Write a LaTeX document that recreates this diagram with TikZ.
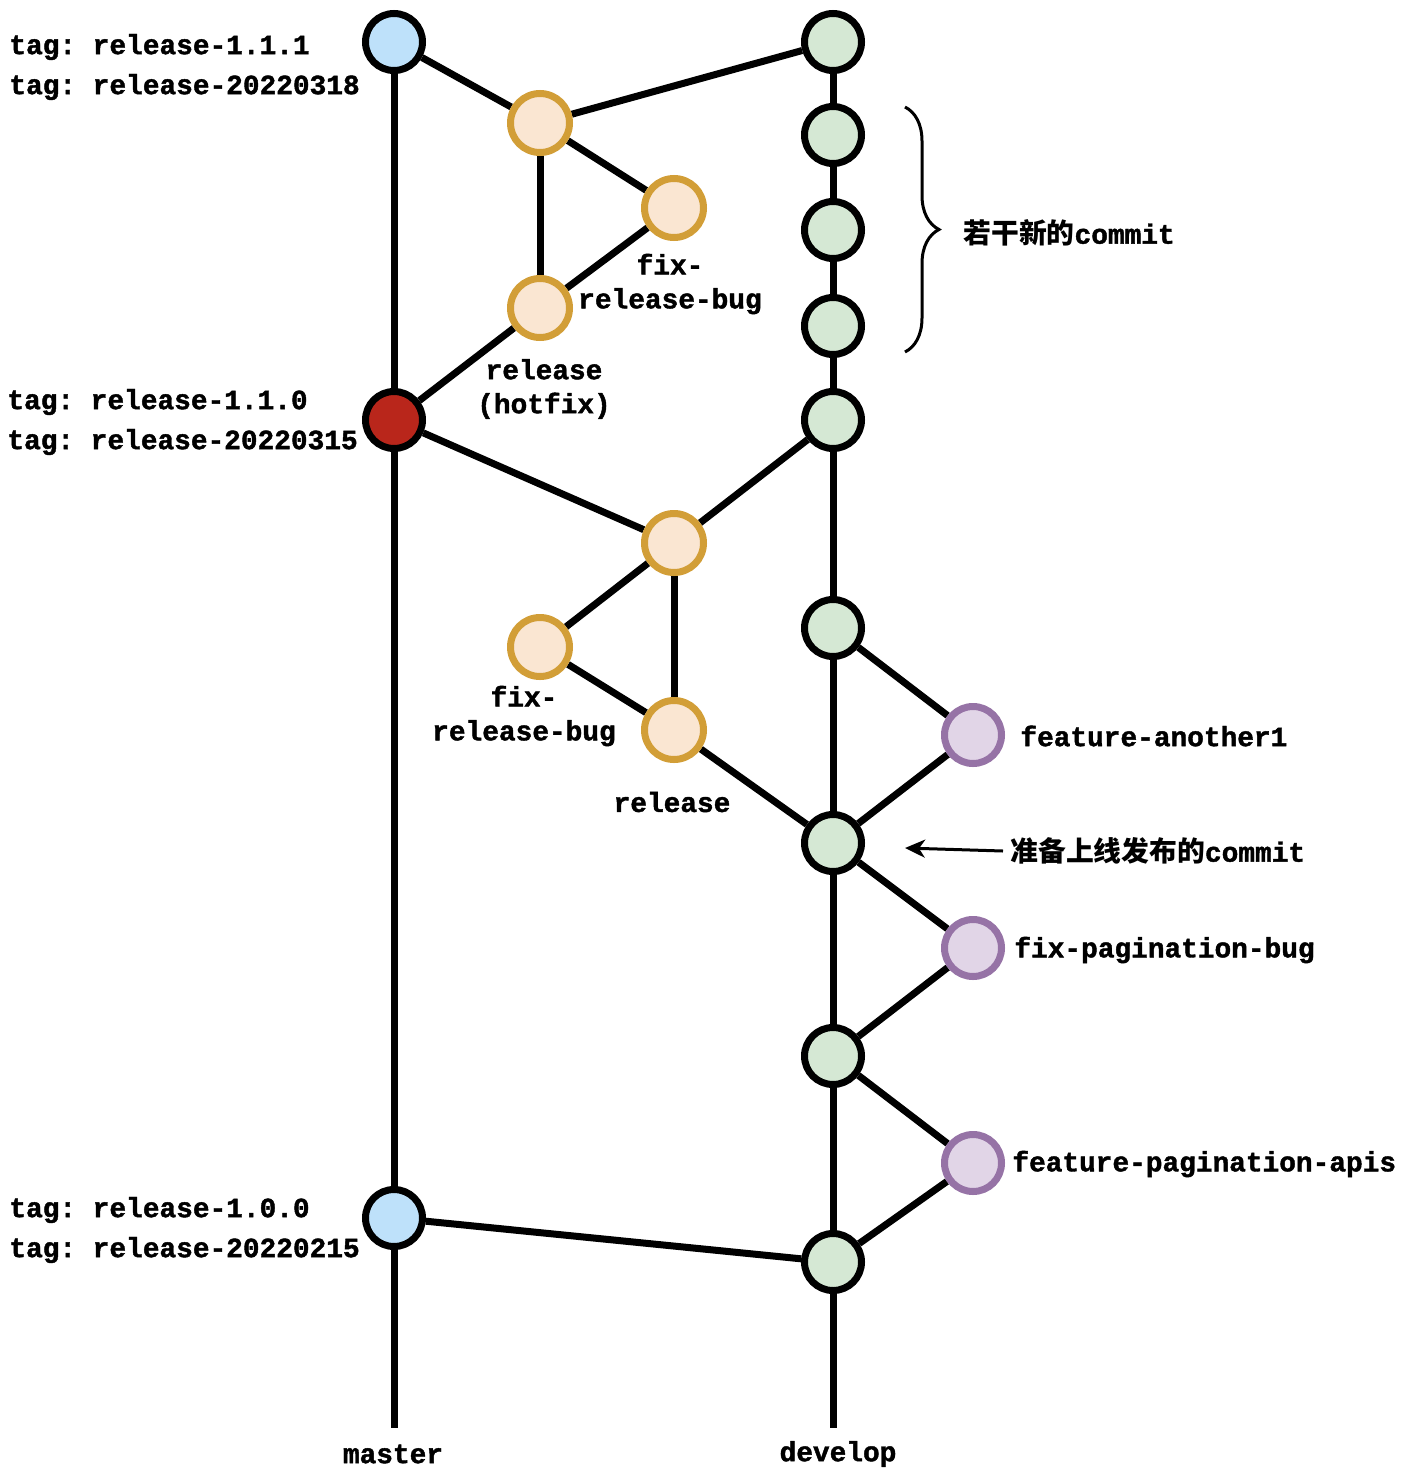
\documentclass[tikz,border=0pt]{standalone}
\usepackage{fontspec}
\setmonofont{Liberation Mono}[BoldFeatures={FakeBold=1.5}]
\newfontfamily\cjk{Noto Sans CJK SC}
\usepackage{tikz}
\usetikzlibrary{arrows.meta}
\usetikzlibrary{backgrounds}
\usetikzlibrary{decorations.pathreplacing}

\definecolor{tagblue}{RGB}{190,225,250}
\definecolor{tagred}{RGB}{185,38,27}
\definecolor{relfill}{RGB}{250,230,210}
\definecolor{relline}{RGB}{210,158,55}
\definecolor{devfill}{RGB}{213,232,212}
\definecolor{featfill}{RGB}{225,213,231}
\definecolor{featline}{RGB}{150,115,166}

\begin{document}
\begin{tikzpicture}[x=0.5pt,y=-0.5pt,
	commit/.style={draw,circle,line width=3.5pt,minimum size=28.5pt,inner sep=0pt},
	tagged/.style={commit,fill=tagblue},
	hotfix/.style={commit,fill=tagred},
	rel/.style={commit,draw=relline,fill=relfill,minimum size=29.5pt},
	dev/.style={commit,fill=devfill},
	feat/.style={commit,draw=featline,fill=featfill},
	edge/.style={draw,line width=3.5pt},
	lbl/.style={inner sep=0pt,font=\fontsize{13.9}{17}\selectfont\ttfamily\bfseries},
	taglbl/.style={lbl,align=left,anchor=west,font=\fontsize{13.9}{20}\selectfont\ttfamily\bfseries}]
\useasboundingbox (0,0) rectangle (1402,1478);

% master
\node[tagged] (m1) at (394,42) {};
\node[hotfix] (m2) at (394,420) {};
\node[tagged] (m3) at (394,1218) {};
\coordinate (mend) at (394,1428);

% develop
\foreach \n/\y in {1/42,2/135,3/230,4/326,5/420,6/628,7/843,8/1056,9/1262}
	\node[dev] (d\n) at (833,\y) {};
\coordinate (dend) at (833,1428);

% release / hotfix
\node[rel] (r1) at (540,123) {};
\node[rel] (r2) at (674,208) {};
\node[rel] (r3) at (540,308) {};
\node[rel] (r4) at (674,543) {};
\node[rel] (r5) at (540,647) {};
\node[rel] (r6) at (674,730) {};

% features
\node[feat] (f1) at (973,735) {};
\node[feat] (f2) at (973,948) {};
\node[feat] (f3) at (973,1163) {};

\begin{scope}[on background layer]
	\draw[edge] (m1) -- (m2) -- (m3) -- (mend);
	\foreach \a/\b in {1/2,2/3,3/4,4/5,5/6,6/7,7/8,8/9}
		\draw[edge] (d\a) -- (d\b);
	\draw[edge] (d9) -- (dend);
	\foreach \a/\b in {m1/r1,r1/d1,r1/r2,r1/r3,r2/r3,r3/m2,
		m2/r4,r4/d5,r4/r5,r4/r6,r5/r6,r6/d7,
		d6/f1,f1/d7,d7/f2,f2/d8,d8/f3,f3/d9,m3/d9}
		\draw[edge] (\a) -- (\b);
\end{scope}

% labels
\node[taglbl] (t1) at (9,67) {tag: release-1.1.1\\tag: release-20220318};
\node[taglbl] (t2) at (7,422) {tag: release-1.1.0\\tag: release-20220315};
\node[taglbl] (t3) at (9,1230) {tag: release-1.0.0\\tag: release-20220215};
\node[lbl,align=center] (l1) at (670,284) {fix-\\release-bug};
\node[lbl,align=center] (l2) at (544,389) {release\\(hotfix)};
\node[lbl,align=center] (l3) at (524,716) {fix-\\release-bug};
\node[lbl] (l4) at (672,802) {release};
\node[lbl,anchor=west] (l5) at (1020,736) {feature-another1};
\node[lbl,anchor=west] (l6) at (1014,950) {fix-pagination-bug};
\node[lbl,anchor=west] (l7) at (1012,1164) {feature-pagination-apis};
\node[lbl] (lm) at (393,1454) {master};
\node[lbl] (ld) at (838,1454) {develop};

% notes
\draw[line width=1.5pt,decorate,decoration={brace,amplitude=17pt}] (905,107) -- (905,352);
\node[lbl,anchor=west] (n1) at (963,233) {{\cjk 若干新的}commit};
\node[lbl,anchor=west] (n2) at (1010,851) {{\cjk 准备上线发布的}commit};
\coordinate (aim) at (905,848);
\draw[line width=1.5pt,-{Stealth[length=10pt,width=9pt,inset=3pt]}] ([xshift=-3.5pt]n2.west) -- (aim);
\end{tikzpicture}
\end{document}
